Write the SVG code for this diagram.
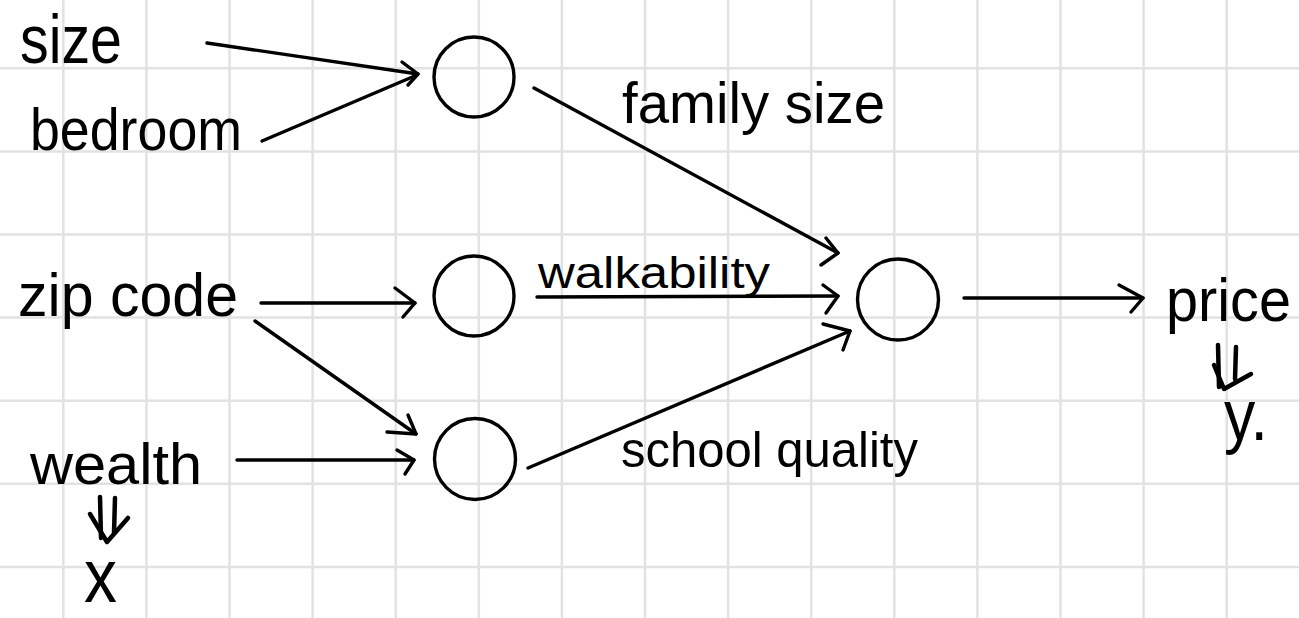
<svg xmlns="http://www.w3.org/2000/svg" width="1299" height="618" viewBox="0 0 1299 618">
<style>
.grid line{stroke:#e2e2e2;stroke-width:2.5}
.conn path{stroke:#000;stroke-width:3.4;fill:none;stroke-linecap:round;stroke-linejoin:round}
.conn path.hand{stroke-width:4.5}
.node circle{stroke:#000;stroke-width:3.4;fill:none}
text{font-family:"Liberation Sans","DejaVu Sans",sans-serif;fill:#000}
</style>
<rect width="1299" height="618" fill="#fff"/>
<g class="grid">
<line x1="63.3" y1="0" x2="63.3" y2="618"/><line x1="146.4" y1="0" x2="146.4" y2="618"/><line x1="229.5" y1="0" x2="229.5" y2="618"/><line x1="312.6" y1="0" x2="312.6" y2="618"/><line x1="395.7" y1="0" x2="395.7" y2="618"/><line x1="478.8" y1="0" x2="478.8" y2="618"/><line x1="561.9" y1="0" x2="561.9" y2="618"/><line x1="645" y1="0" x2="645" y2="618"/><line x1="728.1" y1="0" x2="728.1" y2="618"/><line x1="811.2" y1="0" x2="811.2" y2="618"/><line x1="894.3" y1="0" x2="894.3" y2="618"/><line x1="977.4" y1="0" x2="977.4" y2="618"/><line x1="1060.5" y1="0" x2="1060.5" y2="618"/><line x1="1143.6" y1="0" x2="1143.6" y2="618"/><line x1="1226.7" y1="0" x2="1226.7" y2="618"/>
<line x1="0" y1="68.3" x2="1299" y2="68.3"/><line x1="0" y1="151.4" x2="1299" y2="151.4"/><line x1="0" y1="234.5" x2="1299" y2="234.5"/><line x1="0" y1="317.6" x2="1299" y2="317.6"/><line x1="0" y1="400.7" x2="1299" y2="400.7"/><line x1="0" y1="483.8" x2="1299" y2="483.8"/><line x1="0" y1="566.9" x2="1299" y2="566.9"/>
</g>
<g class="conn">
<path d="M207,43 L418,74"/><path d="M402,62 L418,74 L408,85"/>
<path d="M262,141 L417,75"/>
<path d="M261,303 L415,303"/><path d="M395,288 L415,303 L403,317"/>
<path d="M255,321 L416,434"/><path d="M387,432 L416,434 L408,415"/>
<path d="M237,460 L414,460"/><path d="M397,450 L414,460 L405,474"/>
<path d="M534,88 L838,253"/><path d="M826,238 L838,253 L821,265"/>
<path d="M537,297 L838,296"/><path d="M823,285 L838,296 L826,313"/>
<path d="M528,468 L850,331"/><path d="M823,324 L850,331 L843,350"/>
<path d="M964,298 L1143,298"/><path d="M1119,285 L1143,298 L1131,312"/>
<path class="hand" d="M100,497 L101,538 M115,498 L114,533"/><path class="hand" d="M90,514 L107,542 L128,518"/>
<path class="hand" d="M1218,345 L1219,387 M1236,347 L1235,379"/><path class="hand" d="M1214,365 L1224,389 L1251,374"/>
</g>
<g id="n1" class="node"><circle cx="474" cy="77" r="40"/></g>
<g id="n2" class="node"><circle cx="474" cy="296" r="40"/></g>
<g id="n3" class="node"><circle cx="475" cy="459" r="40.5"/></g>
<g id="n4" class="node"><circle cx="898" cy="299.5" r="40.5"/></g>
<g id="labels">
<text x="20" y="63" font-size="68" textLength="102" lengthAdjust="spacingAndGlyphs">size</text>
<text x="30" y="150" font-size="60" textLength="212" lengthAdjust="spacingAndGlyphs">bedroom</text>
<text x="18" y="316" font-size="62" textLength="220" lengthAdjust="spacingAndGlyphs">zip code</text>
<text x="30" y="484" font-size="58" textLength="172" lengthAdjust="spacingAndGlyphs">wealth</text>
<text x="84" y="602" font-size="76" textLength="33" lengthAdjust="spacingAndGlyphs">x</text>
<text x="622" y="123" font-size="58" textLength="263" lengthAdjust="spacingAndGlyphs">family size</text>
<text x="538" y="288" font-size="44" textLength="232" lengthAdjust="spacingAndGlyphs">walkability</text>
<text x="621" y="467" font-size="50" textLength="297" lengthAdjust="spacingAndGlyphs">school quality</text>
<text x="1166" y="321" font-size="62" textLength="125" lengthAdjust="spacingAndGlyphs">price</text>
<text x="1224" y="440" font-size="72" textLength="44" lengthAdjust="spacingAndGlyphs">y.</text>
</g>
</svg>
